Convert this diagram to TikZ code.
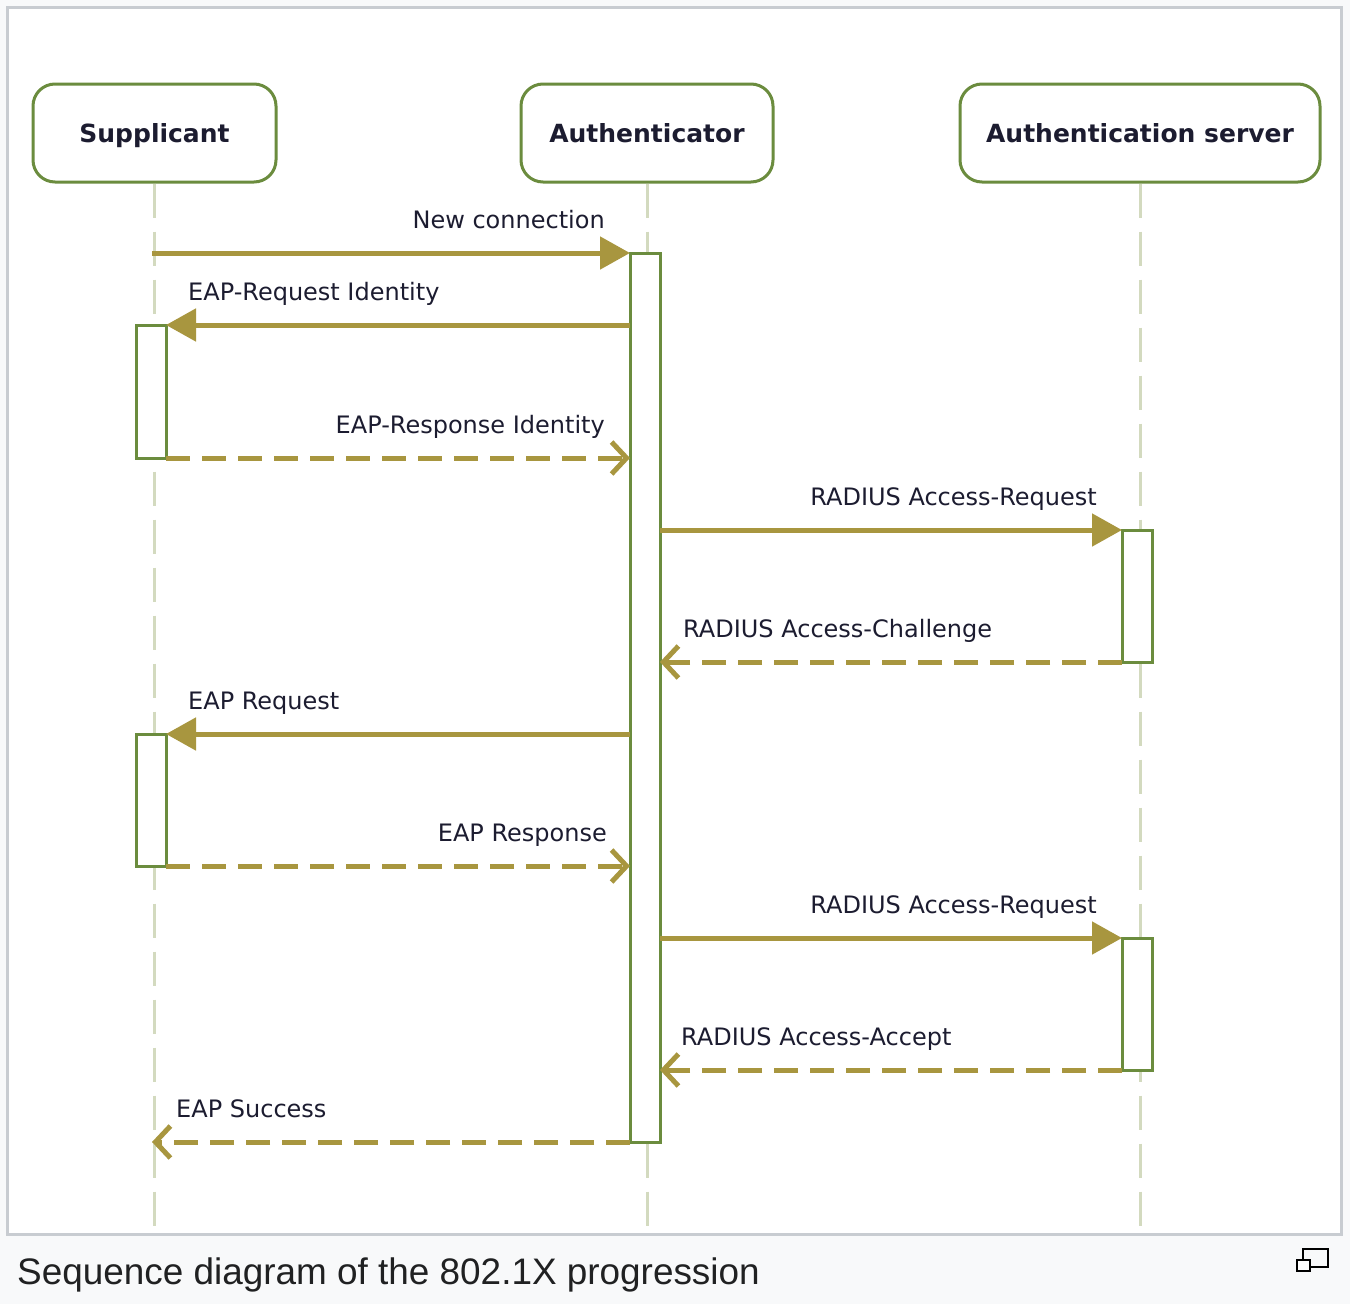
\documentclass[tikz,border=0pt]{standalone}
\usepackage{fontspec}
\setmainfont{DejaVu Sans}
\newfontfamily\capfont{Liberation Sans}
\usetikzlibrary{arrows.meta}
\definecolor{bgc}{HTML}{F8F9FA}
\definecolor{framec}{HTML}{C8CCD1}
\definecolor{boxc}{HTML}{6B8C3E}
\definecolor{arrc}{HTML}{A8963F}
\definecolor{lifec}{HTML}{D3DABF}
\definecolor{txtc}{HTML}{1C1C30}
\definecolor{capc}{HTML}{202122}
\begin{document}
\begin{tikzpicture}[x=1pt,y=-1pt,
  head/.style={draw=boxc, line width=3pt, rounded corners=22pt, fill=white,
    minimum height=98pt, inner sep=0pt, text height=18.2pt, text depth=0pt,
    font=\fontsize{25}{30}\selectfont\bfseries, text=txtc},
  life/.style={draw=lifec, line width=3pt, dash pattern=on 34pt off 14pt},
  act/.style={draw=boxc, line width=3pt, fill=white, minimum width=30pt, inner sep=0pt, outer sep=0pt},
  msg/.style={draw=arrc, line width=5pt, -{Triangle[length=30pt,width=32pt]}},
  ret/.style={draw=arrc, line width=5pt, dash pattern=on 24pt off 12pt,
    -{Straight Barb[length=15pt,width=32pt,line width=5pt]}},
  lbl/.style={font=\fontsize{24}{28}\selectfont, text=txtc, inner sep=0pt},
]
\useasboundingbox (0,0) rectangle (1350,1304);
\fill[bgc] (0,0) rectangle (1350,1304);
\draw[framec, line width=3pt, fill=white] (7.5,7.5) rectangle (1341.5,1234);

% heads
\node[head, minimum width=243pt] (sup) at (154.5,133) {Supplicant};
\node[head, minimum width=252pt] (aut) at (647,133) {Authenticator};
\node[head, minimum width=360pt] (srv) at (1140,133) {Authentication server};

% lifeline ends
\coordinate (supEnd) at (154,1228);
\coordinate (autEnd) at (647,1228);
\coordinate (srvEnd) at (1140,1228);
\draw[life] (sup.south -| supEnd) -- (supEnd);
\draw[life] (aut.south -| autEnd) -- (autEnd);
\draw[life] (srv.south -| srvEnd) -- (srvEnd);

% activation boxes
\node[act, minimum height=889pt] (aact) at (645,697.5) {};
\node[act, minimum height=133pt] (sact1) at (151,391.5) {};
\node[act, minimum height=132pt] (sact2) at (151,800) {};
\node[act, minimum height=132pt] (ract1) at (1137,596) {};
\node[act, minimum height=132pt] (ract2) at (1137,1004) {};

% messages
\coordinate (ncStart) at (152,253);
\coordinate (succEnd) at (152,1142);
\draw[msg] (ncStart) -- (aact.north west);
\node[lbl, anchor=base east] (l1) at (605,228) {New connection};

\draw[msg] (aact.west |- sact1.north) -- (sact1.north east);
\node[lbl, anchor=base west] (l2) at (188,300) {EAP-Request Identity};

\draw[ret] (sact1.south east) -- (aact.west |- sact1.south);
\node[lbl, anchor=base east] (l3) at (605,433) {EAP-Response Identity};

\draw[msg] (aact.east |- ract1.north) -- (ract1.north west);
\node[lbl, anchor=base east] (l4) at (1097,505) {RADIUS Access-Request};

\draw[ret] (ract1.south west) -- (aact.east |- ract1.south);
\node[lbl, anchor=base west] (l5) at (683,637) {RADIUS Access-Challenge};

\draw[msg] (aact.west |- sact2.north) -- (sact2.north east);
\node[lbl, anchor=base west] (l6) at (188,709) {EAP Request};

\draw[ret] (sact2.south east) -- (aact.west |- sact2.south);
\node[lbl, anchor=base east] (l7) at (607,841) {EAP Response};

\draw[msg] (aact.east |- ract2.north) -- (ract2.north west);
\node[lbl, anchor=base east] (l8) at (1097,913) {RADIUS Access-Request};

\draw[ret] (ract2.south west) -- (aact.east |- ract2.south);
\node[lbl, anchor=base west] (l9) at (681,1045) {RADIUS Access-Accept};

\draw[ret] (aact.south west) -- (succEnd);
\node[lbl, anchor=base west] (l10) at (176,1117) {EAP Success};

% caption
\node[anchor=base west, inner sep=0pt, text=capc, font=\capfont\fontsize{36.9}{40}\selectfont] (cap) at (17,1284) {Sequence diagram of the 802.1X progression};
\draw[black, line width=2pt] (1303,1249) rectangle (1328,1267);
\draw[black, line width=2pt, fill=white] (1297,1260) rectangle (1310,1271);
\end{tikzpicture}
\end{document}
